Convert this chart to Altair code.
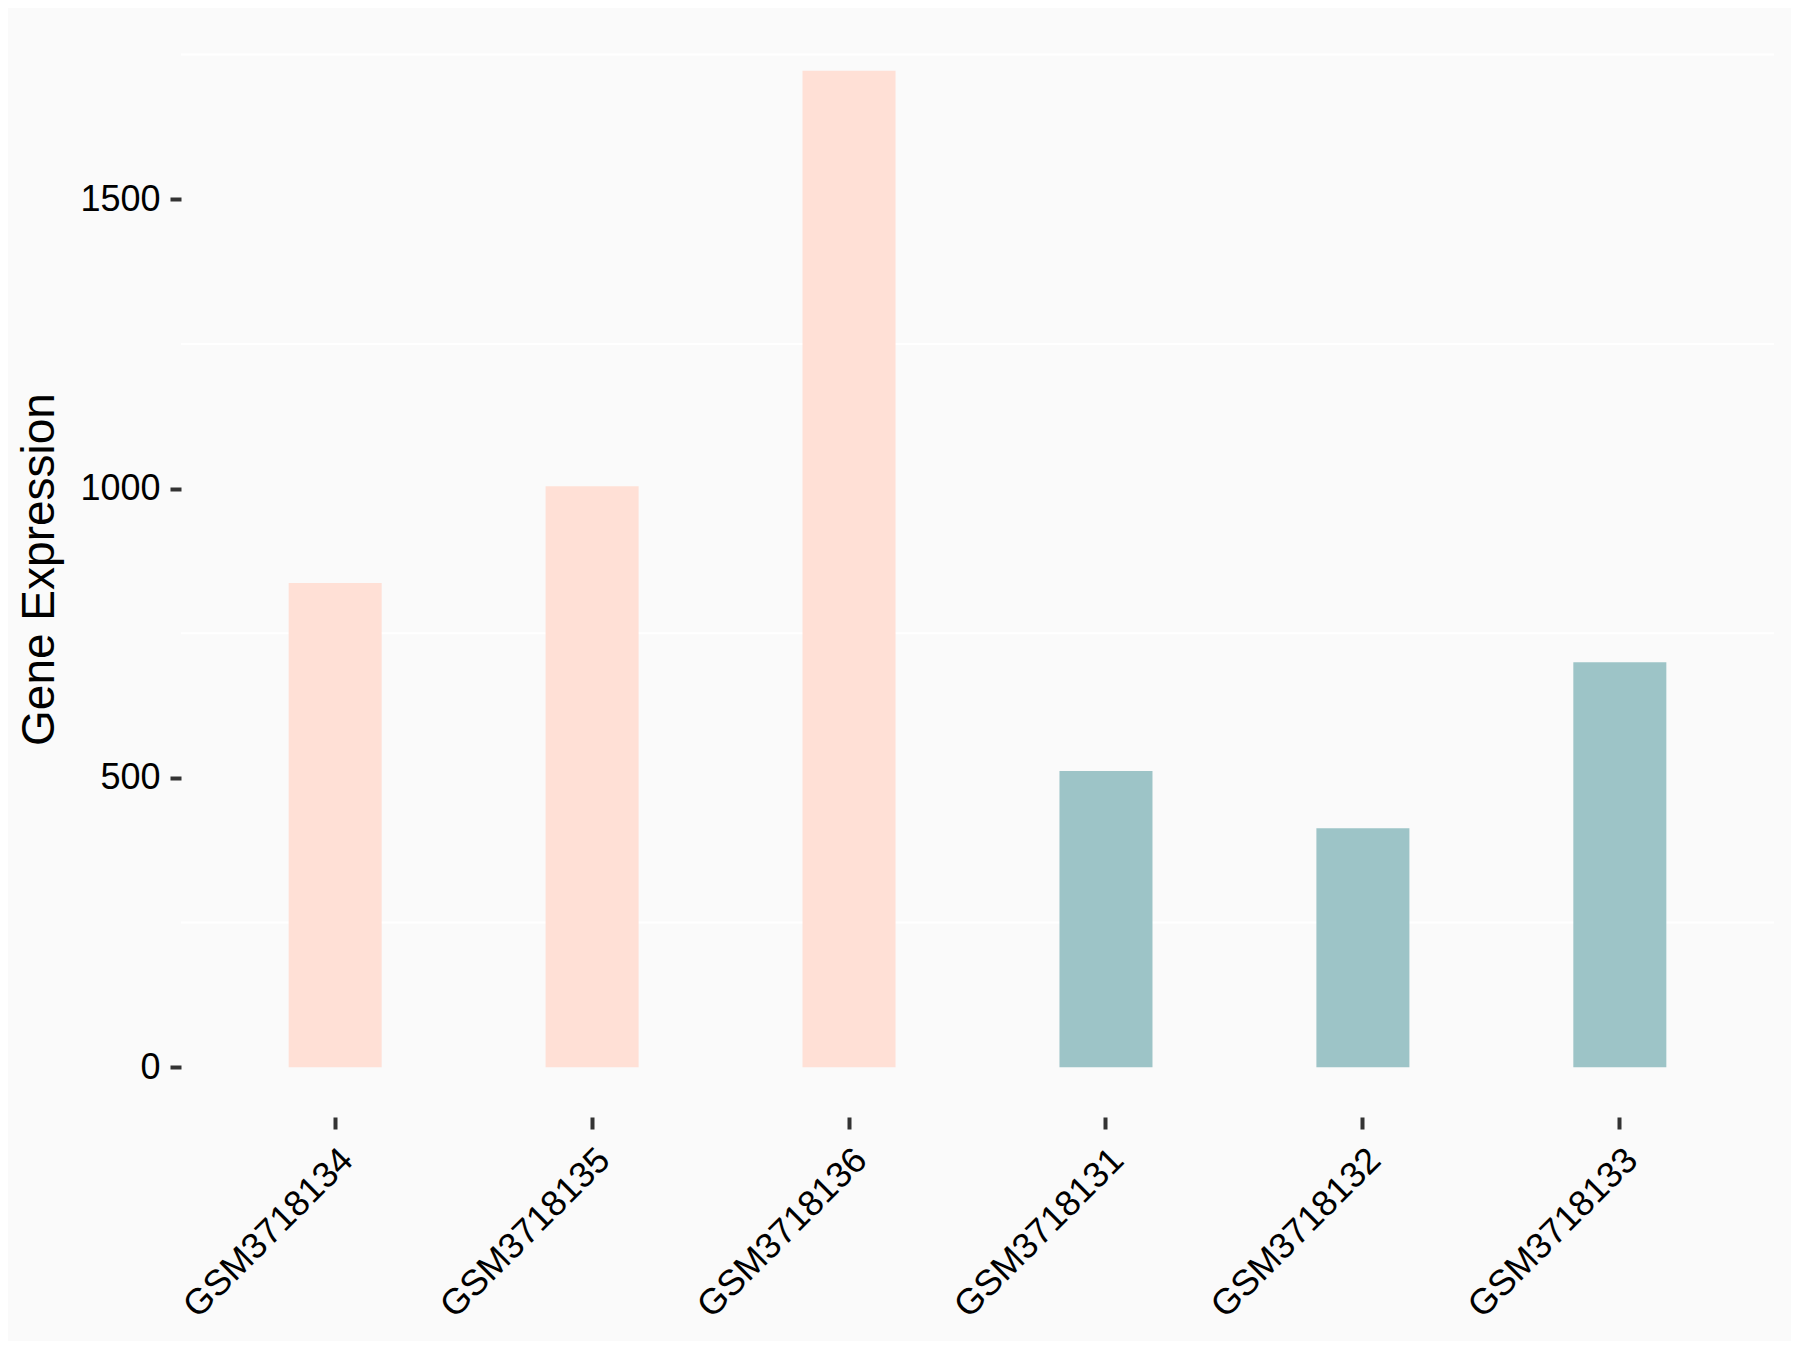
import altair as alt
import pandas as pd

samples = ["GSM3718134", "GSM3718135", "GSM3718136", "GSM3718131", "GSM3718132", "GSM3718133"]
values = [837, 1004, 1722, 512, 413, 700]
groups = ["A", "A", "A", "B", "B", "B"]
group_colors = ["#FFE0D6", "#9DC4C7"]
y_ticks = [0, 500, 1000, 1500]
minor_grid = [250, 750, 1250, 1750]
y_domain = [-86, 1808]

df = pd.DataFrame({"sample": samples, "value": values, "group": groups})
grid_df = pd.DataFrame({"value": minor_grid})

W, H = 1593, 1096

y_scale = alt.Scale(domain=y_domain, nice=False, zero=False)
y_axis = alt.Axis(
    title="Gene Expression",
    values=y_ticks,
    format="d",
    titleFontSize=46,
    titleFont="Liberation Sans",
    titleFontWeight="normal",
    titleColor="#000000",
    titlePadding=16,
    labelFontSize=36,
    labelFont="Liberation Sans",
    labelColor="#000000",
    labelPadding=10,
    tickSize=11,
    tickWidth=4,
    tickColor="#333333",
    domain=False,
    grid=False,
)

grid = alt.Chart(grid_df).mark_rule(color="#FFFFFF", strokeWidth=2).encode(
    y=alt.Y("value:Q", scale=y_scale, axis=y_axis)
)

bars = alt.Chart(df).mark_bar(width={"band": 0.362}).encode(
    x=alt.X(
        "sample:N",
        sort=None,
        scale=alt.Scale(paddingInner=0, paddingOuter=0.1),
        axis=alt.Axis(
            title=None,
            labelAngle=-45,
            labelAlign="right",
            labelBaseline="top",
            labelFontSize=36,
            labelFont="Liberation Sans",
            labelColor="#000000",
            labelPadding=13,
            labelLimit=0,
            tickSize=12,
            tickWidth=4,
            tickColor="#333333",
            domain=False,
            grid=False,
        ),
    ),
    y=alt.Y("value:Q", scale=y_scale, axis=y_axis),
    color=alt.Color(
        "group:N",
        scale=alt.Scale(domain=["A", "B"], range=group_colors),
        legend=None,
    ),
)

chart = (
    alt.layer(grid, bars)
    .properties(
        width=W,
        height=H,
        background="#FAFAFA",
        padding={"left": 173, "top": 13, "right": 17, "bottom": 224},
        autosize=alt.AutoSizeParams(type="none"),
    )
    .configure_view(stroke=None)
)

chart.save("out.html", embed_options={"renderer": "svg", "actions": False})
